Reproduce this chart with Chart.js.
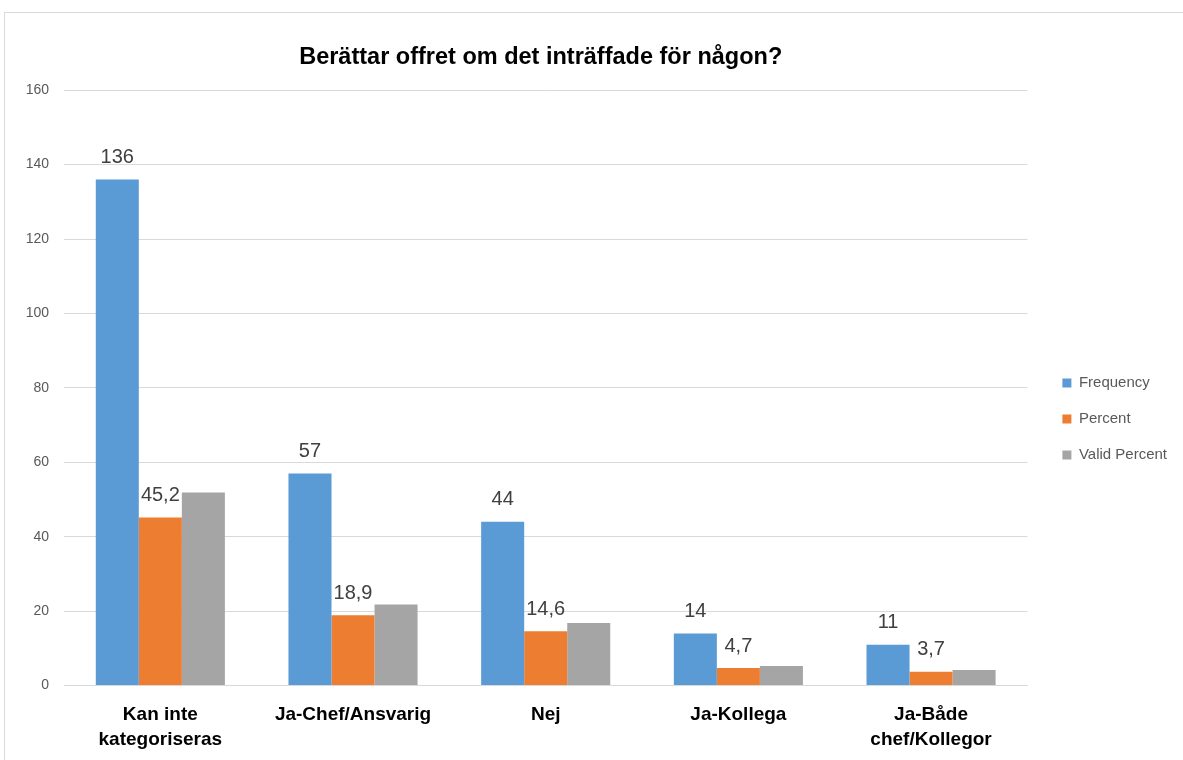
<!DOCTYPE html>
<html>
<head>
<meta charset="utf-8">
<script src="https://cdn.jsdelivr.net/npm/chart.js@4"></script>
<style>
  body { margin: 0; background: #fff; overflow: hidden; }
  #frame {
    position: absolute; left: 4px; top: 12px;
    width: 1200px; height: 770px;
    border: 1px solid #d9d9d9; box-sizing: border-box;
  }
  #box { position: absolute; left: 0; top: 0; width: 1178px; height: 756px; }
</style>
</head>
<body>
<div id="frame"><div id="box"><canvas id="myChart"></canvas></div></div>
<script>
const categories = [
  ["Kan inte", "kategoriseras"],
  "Ja-Chef/Ansvarig",
  "Nej",
  "Ja-Kollega",
  ["Ja-Både", "chef/Kollegor"],
];
const frequency = [136, 57, 44, 14, 11];
const percent = [45.2, 18.9, 14.6, 4.7, 3.7];
const validPercent = [51.9, 21.8, 16.8, 5.3, 4.2];
const yTicks = [0, 20, 40, 60, 80, 100, 120, 140, 160];

const font = "'Liberation Sans', Arial, sans-serif";

// value labels above the Frequency and Percent bars
const barLabels = {
  id: "barLabels",
  afterDatasetsDraw(chart) {
    const ctx = chart.ctx;
    ctx.save();
    ctx.font = "20px " + font;
    ctx.fillStyle = "#404040";
    ctx.textAlign = "center";
    ctx.textBaseline = "bottom";
    [0, 1].forEach((di) => {
      const ds = chart.data.datasets[di];
      chart.getDatasetMeta(di).data.forEach((bar, i) => {
        const txt = String(ds.data[i]).replace(".", ",");
        ctx.fillText(txt, bar.x, bar.y - 12);
      });
    });
    ctx.restore();
  },
};

// title centred over the plot, legend nudged right and down like the original
const nudge = {
  id: "nudge",
  afterLayout(chart) {
    const a = chart.chartArea;
    const t = chart.titleBlock;
    t.left = a.left - 5;
    t.right = a.right - 5;
    const l = chart.legend;
    l.left += 14; l.right += 14;
    l.top += 28; l.bottom += 28;
  },
};

const data = {
  labels: categories,
  datasets: [
    { label: "Frequency", data: frequency, backgroundColor: "#5B9BD5" },
    { label: "Percent", data: percent, backgroundColor: "#ED7D31" },
    { label: "Valid Percent", data: validPercent, backgroundColor: "#A5A5A5" },
  ],
};

const config = {
  type: "bar",
  data: data,
  plugins: [barLabels, nudge],
  options: {
    responsive: true,
    maintainAspectRatio: false,
    animation: false,
    datasets: { bar: { categoryPercentage: 0.67, barPercentage: 1 } },
    layout: { padding: { top: 0, right: 20, bottom: 0, left: 0 } },
    plugins: {
      tooltip: { enabled: false },
      title: {
        display: true,
        text: "Berättar offret om det inträffade för någon?",
        color: "#000",
        font: { family: font, size: 23.5, weight: "bold" },
        padding: { top: 30, bottom: 19 },
      },
      legend: {
        position: "right",
        labels: {
          boxWidth: 9,
          boxHeight: 9,
          padding: 21,
          color: "#595959",
          font: { family: font, size: 15 },
        },
      },
    },
    scales: {
      x: {
        grid: { display: false, drawTicks: false },
        border: { color: "#d9d9d9" },
        ticks: {
          color: "#000",
          padding: 17,
          maxRotation: 0,
          font: { family: font, size: 19, weight: "bold", lineHeight: 1.3 },
        },
      },
      y: {
        min: 0,
        max: 160,
        afterBuildTicks: (axis) => { axis.ticks = yTicks.map((v) => ({ value: v })); },
        afterFit: (axis) => { axis.width = 59; },
        grid: { color: "#d9d9d9", drawTicks: false },
        border: { display: false },
        ticks: {
          color: "#595959",
          padding: 15,
          font: { family: font, size: 14 },
        },
      },
    },
  },
};

const myChart = new Chart(document.getElementById("myChart"), config);
</script>
</body>
</html>
